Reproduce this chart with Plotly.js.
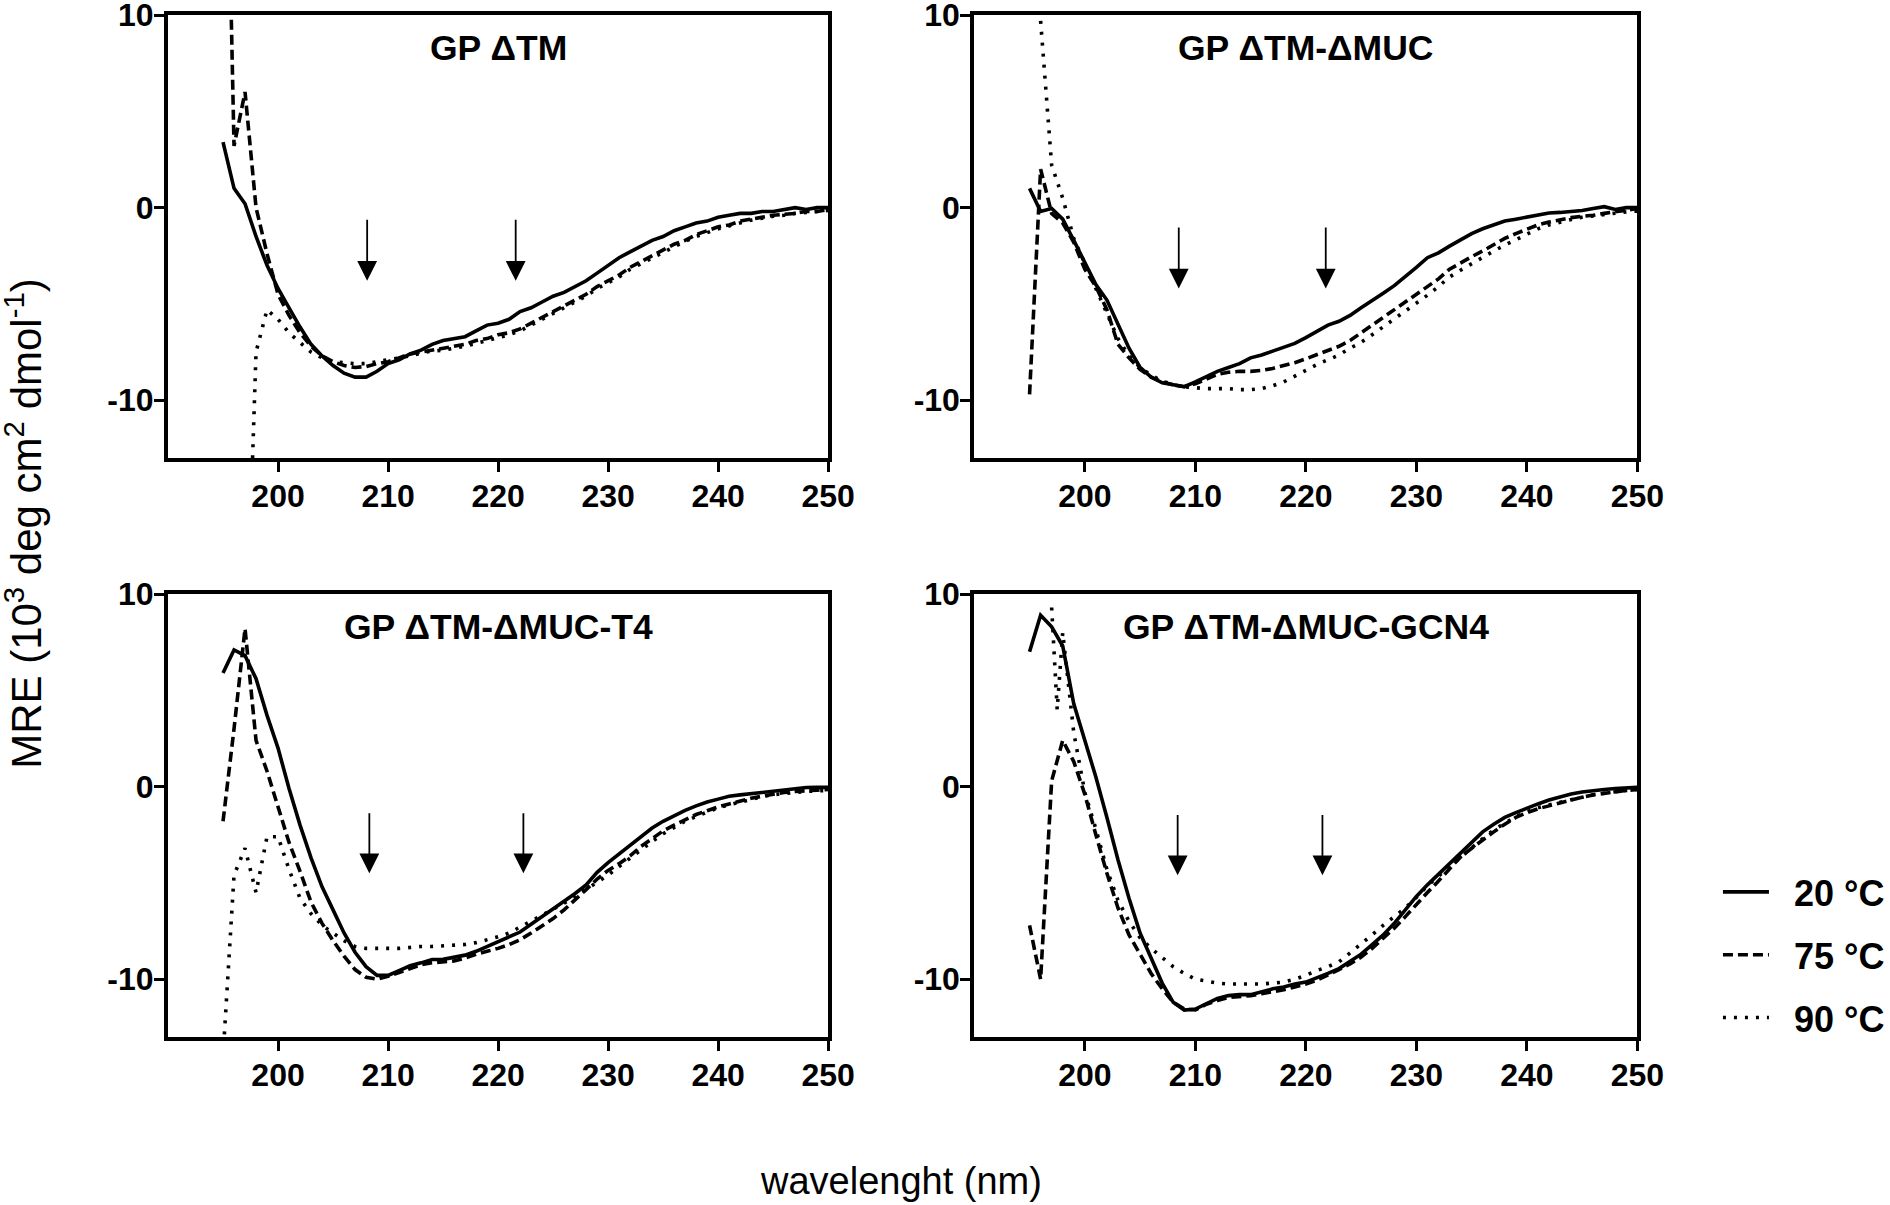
<!DOCTYPE html>
<html>
<head>
<meta charset="utf-8">
<script src="https://cdn.plot.ly/plotly-3.0.1.min.js"></script>
<style>html,body{margin:0;padding:0;background:#fff;}#chart{width:1890px;height:1205px;}</style>
</head>
<body>
<div id="chart"></div>
<script>
// wavelength (nm)
var wl = [195,196,197,198,199,200,201,202,203,204,205,206,207,208,209,210,211,212,213,214,215,216,217,218,219,220,221,222,223,224,225,226,227,228,229,230,231,232,233,234,235,236,237,238,239,240,241,242,243,244,245,246,247,248,249,250];

var panelTitles = ["GP \u0394TM", "GP \u0394TM-\u0394MUC", "GP \u0394TM-\u0394MUC-T4", "GP \u0394TM-\u0394MUC-GCN4"];
var seriesNames = ["20 \u00b0C", "75 \u00b0C", "90 \u00b0C"];
var xTicks = [200,210,220,230,240,250];
var yTicks = [-10,0,10];

// Panel 1: GP dTM
var p1_20 = [3.4,1.0,0.2,-1.5,-3.0,-4.2,-5.2,-6.2,-7.1,-7.7,-8.2,-8.6,-8.8,-8.8,-8.5,-8.1,-7.9,-7.6,-7.4,-7.1,-6.9,-6.8,-6.7,-6.4,-6.1,-6.0,-5.8,-5.4,-5.2,-4.9,-4.6,-4.4,-4.1,-3.8,-3.4,-3.0,-2.6,-2.3,-2.0,-1.7,-1.5,-1.2,-1.0,-0.8,-0.7,-0.5,-0.4,-0.3,-0.3,-0.2,-0.2,-0.1,0.0,-0.1,0.0,0.0];
var p1_75 = [30,3.2,6.0,0.0,-2.4,-4.5,-5.6,-6.5,-7.2,-7.7,-8.0,-8.2,-8.3,-8.25,-8.1,-8.0,-7.8,-7.6,-7.5,-7.4,-7.3,-7.2,-7.1,-6.9,-6.8,-6.6,-6.5,-6.3,-6.0,-5.7,-5.4,-5.1,-4.8,-4.5,-4.1,-3.8,-3.5,-3.1,-2.8,-2.5,-2.2,-1.9,-1.7,-1.4,-1.2,-1.0,-0.9,-0.7,-0.6,-0.5,-0.4,-0.35,-0.3,-0.2,-0.2,-0.1];
var p1_90 = [null,null,-25,-7.5,-5.3,-5.8,-6.5,-7.0,-7.5,-7.8,-8.0,-8.05,-8.1,-8.1,-8.0,-7.9,-7.8,-7.7,-7.55,-7.45,-7.4,-7.3,-7.2,-7.05,-6.9,-6.75,-6.6,-6.4,-6.1,-5.8,-5.5,-5.2,-4.9,-4.6,-4.2,-3.9,-3.6,-3.2,-2.9,-2.6,-2.3,-2.0,-1.75,-1.5,-1.3,-1.1,-0.95,-0.8,-0.65,-0.55,-0.45,-0.4,-0.3,-0.25,-0.2,-0.15];

// Panel 2: GP dTM-dMUC
var p2_20 = [1.0,-0.2,-0.05,-0.6,-1.7,-2.8,-4.0,-4.8,-6.1,-7.3,-8.3,-8.8,-9.1,-9.2,-9.3,-9.05,-8.75,-8.5,-8.3,-8.1,-7.8,-7.65,-7.45,-7.25,-7.05,-6.75,-6.45,-6.1,-5.9,-5.6,-5.2,-4.85,-4.45,-4.05,-3.6,-3.1,-2.6,-2.35,-2.0,-1.65,-1.35,-1.1,-0.9,-0.7,-0.6,-0.5,-0.38,-0.28,-0.25,-0.2,-0.15,-0.05,0.05,-0.1,0.0,0.0];
var p2_75 = [-9.7,2.0,-0.3,-0.8,-1.8,-3.2,-4.1,-5.3,-7.1,-7.8,-8.4,-8.8,-9.05,-9.2,-9.3,-9.15,-8.9,-8.65,-8.55,-8.5,-8.5,-8.45,-8.35,-8.2,-8.05,-7.85,-7.65,-7.45,-7.2,-6.9,-6.5,-6.1,-5.75,-5.35,-4.95,-4.55,-4.15,-3.7,-3.2,-2.85,-2.55,-2.25,-1.9,-1.6,-1.35,-1.1,-0.9,-0.75,-0.62,-0.52,-0.45,-0.4,-0.3,-0.22,-0.15,-0.05];
var p2_90 = [null,9.7,2.2,0.5,-1.6,-2.9,-4.2,-5.4,-6.8,-7.7,-8.3,-8.7,-9.0,-9.2,-9.3,-9.35,-9.4,-9.4,-9.4,-9.45,-9.45,-9.4,-9.25,-9.05,-8.75,-8.4,-8.15,-7.9,-7.65,-7.3,-7.0,-6.6,-6.2,-5.8,-5.4,-4.95,-4.55,-4.1,-3.6,-3.25,-2.9,-2.55,-2.25,-1.95,-1.65,-1.35,-1.1,-0.9,-0.75,-0.62,-0.5,-0.42,-0.35,-0.28,-0.22,-0.18];

// Panel 3: GP dTM-dMUC-T4
var p3_20 = [5.9,7.1,6.8,5.6,3.7,2.0,-0.1,-2.0,-3.7,-5.2,-6.4,-7.6,-8.6,-9.35,-9.8,-9.8,-9.55,-9.3,-9.15,-8.98,-8.97,-8.88,-8.75,-8.55,-8.3,-8.1,-7.85,-7.55,-7.15,-6.75,-6.4,-6.0,-5.55,-5.1,-4.45,-3.95,-3.5,-3.0,-2.55,-2.15,-1.8,-1.5,-1.23,-1.0,-0.8,-0.65,-0.5,-0.43,-0.37,-0.3,-0.22,-0.15,-0.1,-0.05,-0.04,-0.04];
var p3_75 = [-1.8,3.0,8.2,2.4,0.8,-1.0,-2.9,-4.4,-6.0,-7.1,-8.0,-8.8,-9.5,-9.9,-10.0,-9.85,-9.65,-9.45,-9.25,-9.15,-9.1,-9.05,-8.9,-8.7,-8.55,-8.4,-8.2,-7.95,-7.6,-7.25,-6.85,-6.4,-5.9,-5.35,-4.8,-4.35,-4.0,-3.6,-3.1,-2.7,-2.3,-2.0,-1.7,-1.45,-1.25,-1.05,-0.9,-0.75,-0.6,-0.5,-0.4,-0.3,-0.25,-0.2,-0.18,-0.15];
var p3_90 = [-14,-4.6,-3.2,-5.5,-2.6,-2.6,-4.3,-5.8,-6.6,-7.2,-7.6,-8.0,-8.3,-8.4,-8.4,-8.4,-8.4,-8.35,-8.3,-8.3,-8.27,-8.25,-8.2,-8.1,-7.95,-7.8,-7.6,-7.3,-7.0,-6.7,-6.35,-6.05,-5.7,-5.35,-4.95,-4.6,-4.15,-3.7,-3.25,-2.85,-2.45,-2.1,-1.8,-1.55,-1.3,-1.1,-0.95,-0.8,-0.65,-0.52,-0.42,-0.35,-0.3,-0.25,-0.22,-0.2];

// Panel 4: GP dTM-dMUC-GCN4
var p4_20 = [7.0,8.9,8.3,7.3,4.3,2.4,0.5,-1.6,-3.8,-5.8,-7.6,-8.9,-10.2,-11.2,-11.6,-11.55,-11.25,-11.0,-10.85,-10.8,-10.8,-10.65,-10.5,-10.4,-10.25,-10.15,-9.95,-9.7,-9.45,-9.1,-8.7,-8.2,-7.7,-7.1,-6.4,-5.7,-5.1,-4.55,-4.0,-3.5,-2.95,-2.35,-1.95,-1.6,-1.35,-1.1,-0.9,-0.7,-0.52,-0.38,-0.28,-0.2,-0.15,-0.1,-0.07,-0.04];
var p4_75 = [-7.2,-10.0,0.3,2.4,1.3,-0.4,-2.5,-4.5,-6.3,-7.7,-8.7,-9.7,-10.5,-11.2,-11.55,-11.6,-11.3,-11.1,-10.95,-10.9,-10.85,-10.75,-10.65,-10.55,-10.4,-10.25,-10.05,-9.8,-9.5,-9.2,-8.85,-8.4,-7.9,-7.35,-6.75,-6.1,-5.5,-4.9,-4.25,-3.65,-3.2,-2.75,-2.35,-1.95,-1.6,-1.35,-1.15,-1.0,-0.85,-0.68,-0.55,-0.43,-0.35,-0.26,-0.2,-0.15];
var wl4_90 = [197,197.5,198,199,200,201,202,203,204,205,206,207,208,209,210,211,212,213,214,215,216,217,218,219,220,221,222,223,224,225,226,227,228,229,230,231,232,233,234,235,236,237,238,239,240,241,242,243,244,245,246,247,248,249,250];
var p4_90 = [9.3,4.0,8.0,2.8,-0.3,-2.2,-4.3,-5.9,-7.0,-7.85,-8.4,-8.85,-9.35,-9.7,-10.0,-10.1,-10.2,-10.25,-10.25,-10.25,-10.25,-10.2,-10.15,-10.0,-9.8,-9.55,-9.35,-9.1,-8.65,-8.2,-7.7,-7.2,-6.75,-6.3,-5.75,-5.15,-4.65,-4.15,-3.65,-3.15,-2.7,-2.25,-1.9,-1.55,-1.3,-1.1,-0.95,-0.82,-0.65,-0.52,-0.42,-0.34,-0.26,-0.2,-0.15];

// arrows marking 208 and 222 nm: [x, tail y, tip y] per panel
var arrowX = [[208.1,221.6],[208.5,221.8],[208.3,222.3],[208.4,221.5]];
var arrowTail = [-0.55,-0.95,-1.3,-1.4];
var arrowTip = [-3.8,-4.2,-4.5,-4.6];

var panelSeries = [
  [[wl,p1_20],[wl,p1_75],[wl,p1_90]],
  [[wl,p2_20],[wl,p2_75],[wl,p2_90]],
  [[wl,p3_20],[wl,p3_75],[wl,p3_90]],
  [[wl,p4_20],[wl,p4_75],[wl4_90,p4_90]]
];

var FONT = "Liberation Sans, Arial, sans-serif";
var dashes = ["solid","10px,5px","3px,8px"];
var W = 1890, H = 1205;
// domains in pixels
var colX = [[169,833],[980,1647]];
var rowY = [[15,458],[594,1037]];

var traces = [];
var layout = {
  width: W, height: H,
  margin: {l:0, r:0, t:0, b:0},
  paper_bgcolor: "#fff", plot_bgcolor: "#fff",
  showlegend: true,
  legend: {x: 1728/W, y: 1 - 862/H, xanchor: "left", yanchor: "top",
           font: {family: FONT, size: 36, color: "#000", weight: "bold"},
           itemwidth: 46, tracegroupgap: 13, bgcolor: "rgba(0,0,0,0)"},
  annotations: [],
  font: {family: FONT, color: "#000"}
};

for (var p = 0; p < 4; p++) {
  var col = p % 2, row = Math.floor(p / 2);
  var xa = "xaxis" + (p === 0 ? "" : (p + 1));
  var ya = "yaxis" + (p === 0 ? "" : (p + 1));
  var xr = "x" + (p === 0 ? "" : (p + 1));
  var yr = "y" + (p === 0 ? "" : (p + 1));
  var xd = [colX[col][0] / W, colX[col][1] / W];
  var yd = [1 - rowY[row][1] / H, 1 - rowY[row][0] / H];
  layout[xa] = {
    domain: xd, anchor: yr, range: [190, 250], tickvals: xTicks, ticktext: xTicks.map(String),
    ticks: "outside", ticklen: 10, tickwidth: 3, tickcolor: "#000",
    showline: true, linewidth: 4, linecolor: "#000", mirror: true,
    showgrid: false, zeroline: false, ticklabelstandoff: -3, ticklabeloverflow: "allow",
    tickfont: {family: FONT, size: 32, color: "#000", weight: "bold"}
  };
  layout[ya] = {
    domain: yd, anchor: xr, range: [-13, 10], tickvals: yTicks, ticktext: yTicks.map(String),
    ticks: "outside", ticklen: 10, tickwidth: 3, tickcolor: "#000",
    showline: true, linewidth: 4, linecolor: "#000", mirror: true,
    showgrid: false, zeroline: false, ticklabelstandoff: -6, ticklabeloverflow: "allow",
    tickfont: {family: FONT, size: 32, color: "#000", weight: "bold"}
  };
  for (var s = 0; s < 3; s++) {
    traces.push({
      type: "scatter", mode: "lines",
      x: panelSeries[p][s][0], y: panelSeries[p][s][1],
      xaxis: xr, yaxis: yr,
      name: "\u00a0\u00a0" + seriesNames[s], legendgroup: "g" + s,
      showlegend: p === 0, connectgaps: false,
      line: {color: "#000", width: 3.6, dash: dashes[s]},
      hoverinfo: "skip"
    });
  }
  // panel title
  layout.annotations.push({
    xref: "paper", yref: "paper",
    x: (xd[0] + xd[1]) / 2, y: 1 - (rowY[row][0] + 33) / H,
    xanchor: "center", yanchor: "middle", showarrow: false,
    text: "<b>" + panelTitles[p] + "</b>",
    font: {family: FONT, size: 35.5, color: "#000"}
  });
  // arrows
  for (var a = 0; a < 2; a++) {
    layout.annotations.push({
      xref: xr, yref: yr, axref: xr, ayref: yr,
      x: arrowX[p][a], y: arrowTip[p], ax: arrowX[p][a], ay: arrowTail[p],
      showarrow: true, arrowhead: 2, arrowsize: 2.2, arrowwidth: 1.8,
      arrowcolor: "#000", text: "", standoff: 0
    });
  }
}

// axis titles
layout.annotations.push({
  xref: "paper", yref: "paper", x: 24 / W, y: 1 - 523 / H,
  xanchor: "center", yanchor: "middle", showarrow: false, textangle: -90,
  text: "MRE (10<sup>3</sup> deg cm<sup>2</sup> dmol<sup>-1</sup>)",
  font: {family: FONT, size: 42, color: "#000"}
});
layout.annotations.push({
  xref: "paper", yref: "paper", x: 906 / W, y: 1 - 1181 / H,
  xanchor: "center", yanchor: "middle", showarrow: false,
  text: "wavelenght (nm)",
  font: {family: FONT, size: 38, color: "#000"}
});

Plotly.newPlot("chart", traces, layout, {staticPlot: true, displayModeBar: false});
</script>
</body>
</html>
